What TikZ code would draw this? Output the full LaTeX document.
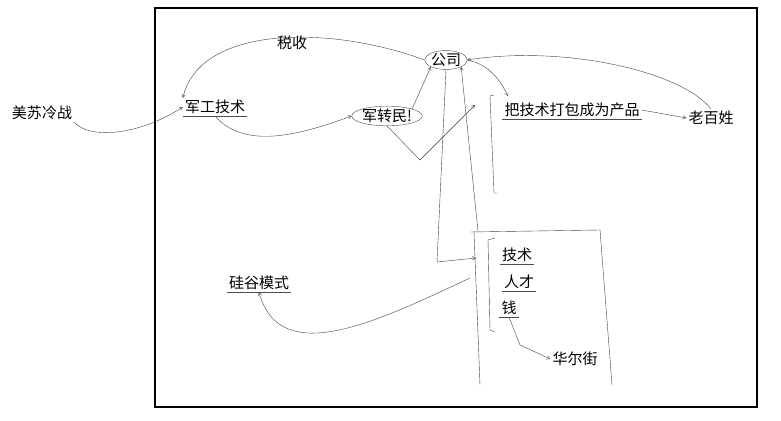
\documentclass[tikz,border=0pt]{standalone}
\usepackage{fontspec}
\newfontfamily\cjk{Noto Sans CJK SC}
\usetikzlibrary{arrows}
\usetikzlibrary{shapes.geometric}

\begin{document}
\begin{tikzpicture}[x=1pt,y=-1pt,
	label/.style={font=\cjk\fontsize{15}{17}\selectfont, inner sep=2pt},
	uline/.style={label, append after command={
		(\tikzlastnode.south west) edge[draw=black!70, thin] (\tikzlastnode.south east)}},
	bubble/.style={label, ellipse, draw=black!70, thin, inner sep=0pt},
	wire/.style={draw=black!75, thin},
	tip/.style={wire, ->, >=angle 60}]
	 \useasboundingbox (0,0) rectangle (781,420);
	 \draw[line width=1.3pt] (155,8) rectangle (757,407);
	 \node[label] (coldwar) at (42,113) {美苏冷战};
	 \node[uline] (military) at (215,107) {军工技术};
	 \node[bubble] (civil) at (387,116) {军转民!};
	 \node[bubble] (company) at (446,60) {公司};
	 \node[label] (tax) at (292,43) {税收};
	 \node[uline] (product) at (572,110) {把技术打包成为产品};
	 \node[label] (people) at (711,118) {老百姓};
	 \node[uline] (tech) at (517,255) {技术};
	 \node[uline] (talent) at (519,282) {人才};
	 \node[uline] (money) at (509,308) {钱};
	 \node[uline] (valley) at (259,283) {硅谷模式};
	 \node[label] (wallst) at (575,359) {华尔街};
	 \coordinate (boxtop) at (478,231);
	 \coordinate (corner) at (437,262);
	 \coordinate (bend) at (520,345);
	 \coordinate (packin) at (475,105);
	 % hand drawn box and brackets
	 \draw[wire] (470,232) -- (600,230) -- (612,385);
	 \draw[wire] (474,232) -- (480,385);
	 \draw[wire] (495,238) -- (488,240) -- (490,330) -- (495,332);
	 \draw[wire] (494,95) -- (490,96) -- (494,193) -- (497,193);
	 % connectors
	 \draw[tip] (coldwar.south east) .. controls (90,140) and (140,135) .. (military.west);
	 \draw[tip] (military.south) .. controls (245,150) and (300,135) .. (civil.west);
	 \draw[tip] (company.west) .. controls (330,25) and (200,25) .. (military.north west);
	 \draw[tip] (civil.north east) -- (company.south west);
	 \draw[tip] (civil.south) -- (420,160) -- (packin);
	 \draw[tip] (company.east) .. controls (490,65) and (500,80) .. (508,96);
	 \draw[tip] (people.north) .. controls (680,70) and (560,45) .. (company.east);
	 \draw[tip] (product.east) -- (people.west);
	 \draw[tip] (company.south) -- (corner) -- (476,258);
	 \draw[tip] (boxtop) -- (company.south east);
	 \draw[tip] (470,278) .. controls (380,320) and (280,370) .. (valley.south);
	 \draw[tip] (money.south) -- (bend) -- (wallst.west);
\end{tikzpicture}
\end{document}
